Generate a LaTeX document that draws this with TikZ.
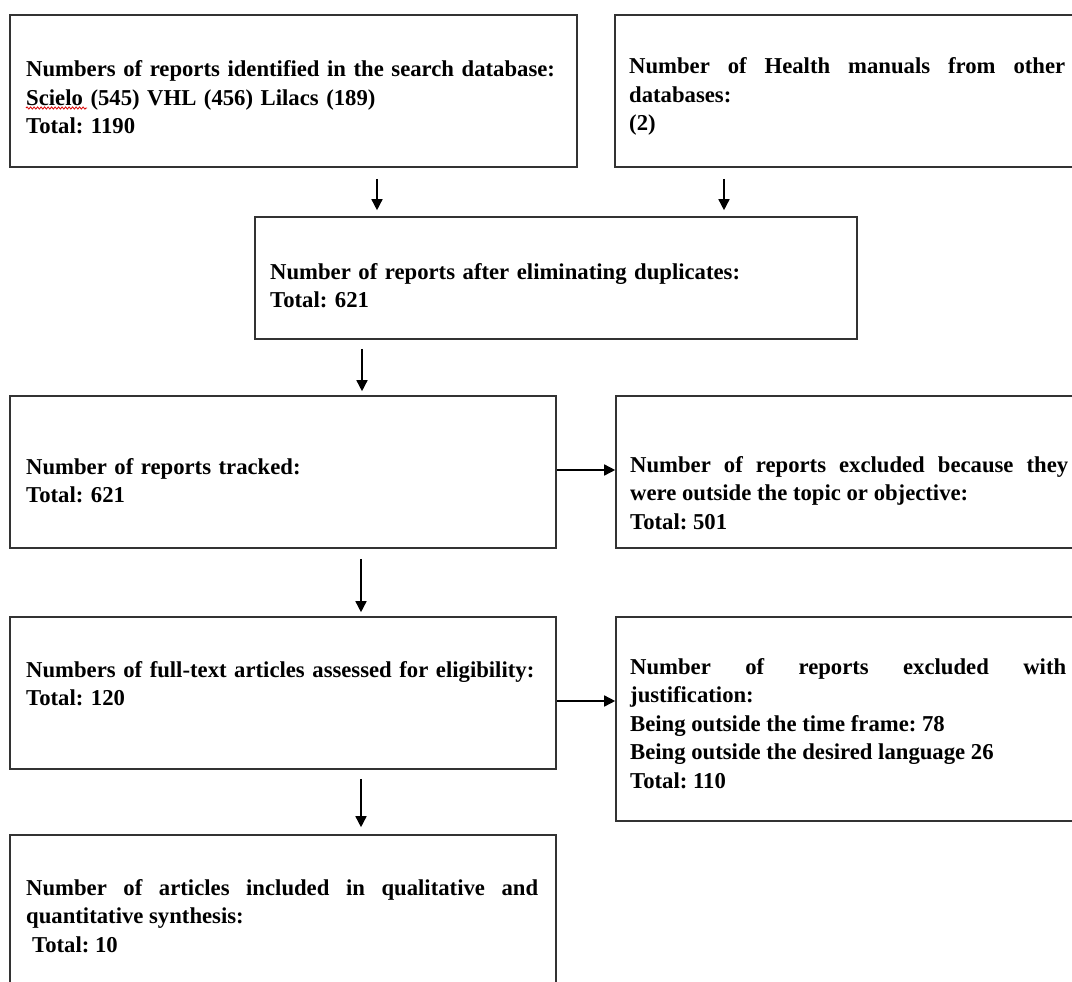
\documentclass[tikz,border=0pt]{standalone}
\usepackage{fontspec}
\setmainfont{Liberation Serif}
\usetikzlibrary{arrows.meta,decorations.pathmorphing}

\begin{document}
\begin{tikzpicture}[x=1pt, y=-1pt,
  prismabox/.style={draw=black!80, line width=1.6pt, inner sep=0pt},
  prismatext/.style={anchor=base west, inner sep=0pt, font=\bfseries\frenchspacing\fontsize{22.7}{28.5}\selectfont},
  prismaarrow/.style={line width=1.5pt, -{Triangle[length=11pt,width=11pt]}}]
  \useasboundingbox (0,0) rectangle (1072,982);
  \node[prismabox, minimum width=567pt, minimum height=152pt] (ident) at (293.5,91) {};
  \node[prismabox, minimum width=464pt, minimum height=152pt] (manuals) at (847,91) {};
  \node[prismabox, minimum width=602pt, minimum height=122pt] (dedup) at (556,278) {};
  \node[prismabox, minimum width=546pt, minimum height=152pt] (tracked) at (283,472) {};
  \node[prismabox, minimum width=463pt, minimum height=152pt] (topic) at (847.5,472) {};
  \node[prismabox, minimum width=546pt, minimum height=152pt] (elig) at (283,693) {};
  \node[prismabox, minimum width=463pt, minimum height=204pt] (just) at (847.5,719) {};
  \node[prismabox, minimum width=546pt, minimum height=165pt] (incl) at (283,917.5) {};

  \node[prismatext, text width=545pt, align=left] (identtext) at (26,77) {Numbers of reports identified in the search database:\\Scielo (545) VHL (456) Lilacs (189)\\Total: 1190};
  \draw[red!85!black, line width=0.8pt, decorate, decoration={snake, amplitude=1.1pt, segment length=3.5pt}] (26,108) -- (87,108);
  \node[prismatext, text width=436pt, align=justify] (manualstext) at (629,74) {Number of Health manuals from other\linebreak databases:\\(2)};
  \node[prismatext, text width=570pt, align=left] (deduptext) at (270,279) {Number of reports after eliminating duplicates:\\Total: 621};
  \node[prismatext, text width=510pt, align=left] (trackedtext) at (26,474) {Number of reports tracked:\\Total: 621};
  \node[prismatext, text width=438pt, align=justify] (topictext) at (630,472) {Number of reports excluded because they\linebreak were outside the topic or objective:\\Total: 501};
  \node[prismatext, text width=520pt, align=left] (eligtext) at (26,677) {Numbers of full-text articles assessed for eligibility:\\Total: 120};
  \node[prismatext, text width=436pt, align=justify] (justtext) at (630,674) {Number of reports excluded with\linebreak justification:\\Being outside the time frame: 78\\Being outside the desired language 26\\Total: 110};
  \node[prismatext, text width=512pt, align=justify] (incltext) at (26,895) {Number of articles included in qualitative and\linebreak quantitative synthesis:\\\hspace*{6pt}Total: 10};

  \coordinate (a1) at ([xshift=83.5pt]ident.south);
  \coordinate (a2) at ([xshift=-123pt]manuals.south);
  \coordinate (a3) at ([xshift=-194pt]dedup.south);
  \coordinate (a4) at ([xshift=78pt]tracked.south);
  \coordinate (a5) at ([xshift=78pt]elig.south);
  \coordinate (a6) at ([yshift=-8pt]elig.east);
  \draw[prismaarrow, shorten <=11pt, shorten >=6pt] (a1) -- (a1 |- dedup.north);
  \draw[prismaarrow, shorten <=11pt, shorten >=6pt] (a2) -- (a2 |- dedup.north);
  \draw[prismaarrow, shorten <=9pt, shorten >=4pt] (a3) -- (a3 |- tracked.north);
  \draw[prismaarrow] ([yshift=2pt]tracked.east) -- ([yshift=2pt]topic.west);
  \draw[prismaarrow, shorten <=10pt, shorten >=4pt] (a4) -- (a4 |- elig.north);
  \draw[prismaarrow] (a6) -- (a6 -| just.west);
  \draw[prismaarrow, shorten <=9pt, shorten >=7pt] (a5) -- (a5 |- incl.north);
\end{tikzpicture}
\end{document}
